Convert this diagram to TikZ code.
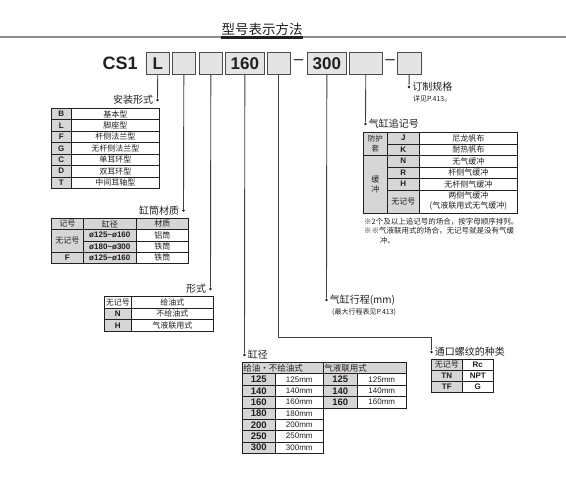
\documentclass[tikz,border=0pt]{standalone}
\usepackage{fontspec}
\setmainfont{Liberation Sans}
\newfontfamily\cjk{Noto Sans CJK SC}
\definecolor{txt}{HTML}{231F20}
\definecolor{cellgray}{HTML}{D6D6D6}
\definecolor{boxgray}{HTML}{E4E4E4}
\definecolor{linegray}{HTML}{404040}
\newcommand\Tcj{\cjk\fontsize{8}{9}\selectfont}
\newcommand\Tcs{\cjk\fontsize{8}{9.5}\selectfont}
\newcommand\Tbf{\fontsize{8}{9}\selectfont\bfseries}
\newcommand\Tnum{\fontsize{9.5}{10}\selectfont\bfseries}
\newcommand\Tmm{\fontsize{8}{9}\selectfont}
\tikzset{
  cell/.style={draw=txt, line width=0.6pt, inner sep=0pt, anchor=north west, align=center, text=txt},
  codebox/.style={draw=black!70, line width=0.7pt, fill=boxgray, anchor=north west, inner sep=0pt, minimum height=22pt, font=\fontsize{17}{17}\selectfont\bfseries, text=txt},
  conn/.style={draw=linegray, line width=0.9pt},
  dotnode/.style={circle, fill=txt, inner sep=0pt, minimum size=2.8pt},
  lbl/.style={font=\cjk\fontsize{10}{12}\selectfont, text=txt, inner sep=1.5pt},
  sublbl/.style={font=\cjk\fontsize{7}{8}\selectfont, text=txt, inner sep=0pt},
}
\newcommand\tc[7]{\node[cell,fill=#6,minimum width=#4pt,minimum height=#5pt] (#1) at ({#2},{#3}) {#7};}
\begin{document}
\begin{tikzpicture}[x=1pt,y=-1pt]
\fill[white] (0,0) rectangle (566,482);
\useasboundingbox (0,0) rectangle (566,482);

% title
\node[font=\cjk\fontsize{13.5}{15}\selectfont, text=txt, inner sep=0pt] (title) at (262,29) {型号表示方法};
\draw[line width=2pt, black!45] (0,37) -- (566,37);
\draw[line width=2.6pt, txt] (221,37.3) -- (303,37.3);

% code row
\node[font=\fontsize{18}{18}\selectfont\bfseries, text=txt, inner sep=0pt, anchor=west] (cs) at (102.5,63.5) {CS1};
\node[codebox, minimum width=23pt] (b1) at (146,52) {L};
\node[codebox, minimum width=23pt] (b2) at (172,52) {};
\node[codebox, minimum width=23pt] (b3) at (199,52) {};
\node[codebox, minimum width=39pt] (b4) at (225,52) {160};
\node[codebox, minimum width=23pt] (b5) at (267,52) {};
\node[font=\fontsize{17}{17}\selectfont, text=txt, inner sep=0pt] (dash1) at (298.5,62) {–};
\node[codebox, minimum width=39pt] (b6) at (307,52) {300};
\node[codebox, minimum width=33pt] (b7) at (349,52) {};
\node[font=\fontsize{17}{17}\selectfont, text=txt, inner sep=0pt] (dash2) at (390,62) {–};
\node[codebox, minimum width=24pt] (b8) at (397,52) {};

% dots
\node[dotnode] (d1) at (157.5,100) {};
\node[dotnode] (d2) at (183.5,210.5) {};
\node[dotnode] (d3) at (210.5,289) {};
\node[dotnode] (d4) at (244.5,355) {};
\node[dotnode] (d5) at (431.5,352) {};
\node[dotnode] (d6) at (326.5,300) {};
\node[dotnode] (d7) at (365.5,124) {};
\node[dotnode] (d8) at (409,87) {};
\coordinate (c5) at (431.5,337);

% connectors
\draw[conn] (b1) -- (d1);
\draw[conn] (b2) -- (d2);
\draw[conn] (b3) -- (d3);
\draw[conn] (b4) -- (d4);
\draw[conn] (b5) |- (c5) -- (d5);
\draw[conn] (b6) -- (d6);
\draw[conn] (b7) -- (d7);
\draw[conn] (b8) -- (d8);

% labels
\node[lbl, anchor=east] (l1) at ([xshift=-1pt]d1.west) {安装形式};
\node[lbl, anchor=east] (l2) at ([xshift=-1pt]d2.west) {缸筒材质};
\node[lbl, anchor=east] (l3) at ([xshift=-1pt]d3.west) {形式};
\node[lbl, anchor=west] (l4) at (d4.east) {缸径};
\node[lbl, anchor=west] (l5) at (d5.east) {通口螺纹的种类};
\node[lbl, anchor=west] (l6) at (d6.east) {气缸行程(mm)};
\node[sublbl, anchor=west] (l6s) at (332,312) {(最大行程表见P.413)};
\node[lbl, anchor=west] (l7) at (d7.east) {气缸追记号};
\node[lbl, anchor=west] (l8) at (d8.east) {订制规格};
\node[sublbl, anchor=west] (l8s) at (413,98.5) {详见P.413。};

% table 1: 安装形式
\foreach \mya/\myb [count=\i] in {B/基本型,L/脚座型,F/杆侧法兰型,G/无杆侧法兰型,C/单耳环型,D/双耳环型,T/中间耳轴型}{
  \tc{t1a\i}{51}{108+11.43*(\i-1)}{20}{11.43}{cellgray}{\Tbf\mya}
  \tc{t1b\i}{71}{108+11.43*(\i-1)}{88}{11.43}{white}{\Tcj\myb}
}

% table 2: 缸筒材质
\tc{t2h1}{51}{218}{32}{11.25}{cellgray}{\Tcj 记号}
\tc{t2h2}{83}{218}{53}{11.25}{cellgray}{\Tcj 缸径}
\tc{t2h3}{136}{218}{52}{11.25}{cellgray}{\Tcj 材质}
\tc{t2a1}{51}{229.25}{32}{22.5}{cellgray}{\Tcj 无记号}
\tc{t2b1}{83}{229.25}{53}{11.25}{cellgray}{\Tbf ø125\textasciitilde ø160}
\tc{t2c1}{136}{229.25}{52}{11.25}{white}{\Tcj 铝筒}
\tc{t2b2}{83}{240.5}{53}{11.25}{cellgray}{\Tbf ø180\textasciitilde ø300}
\tc{t2c2}{136}{240.5}{52}{11.25}{white}{\Tcj 铁筒}
\tc{t2a3}{51}{251.75}{32}{11.25}{cellgray}{\Tbf F}
\tc{t2b3}{83}{251.75}{53}{11.25}{cellgray}{\Tbf ø125\textasciitilde ø160}
\tc{t2c3}{136}{251.75}{52}{11.25}{white}{\Tcj 铁筒}

% table 3: 形式
\tc{t3a1}{104}{296}{27}{11.67}{white}{\Tcj 无记号}
\tc{t3b1}{131}{296}{82}{11.67}{white}{\Tcj 给油式}
\tc{t3a2}{104}{307.67}{27}{11.67}{cellgray}{\Tbf N}
\tc{t3b2}{131}{307.67}{82}{11.67}{white}{\Tcj 不给油式}
\tc{t3a3}{104}{319.33}{27}{11.67}{cellgray}{\Tbf H}
\tc{t3b3}{131}{319.33}{82}{11.67}{white}{\Tcj 气液联用式}

% table 4: 缸径
\tc{t4h1}{242}{362}{81}{11.375}{cellgray}{\makebox[79pt][l]{\cjk\fontsize{8.5}{9}\selectfont 给油·不给油式}}
\tc{t4h2}{323}{362}{83}{11.375}{cellgray}{\makebox[81pt][l]{\cjk\fontsize{8.5}{9}\selectfont 气液联用式}}
\foreach \mya [count=\i] in {125,140,160,180,200,250,300}{
  \tc{t4a\i}{242}{373.375+11.375*(\i-1)}{33}{11.375}{cellgray}{\Tnum\mya}
  \tc{t4b\i}{275}{373.375+11.375*(\i-1)}{48}{11.375}{white}{\Tmm\mya mm}
}
\foreach \mya [count=\i] in {125,140,160}{
  \tc{t4c\i}{323}{373.375+11.375*(\i-1)}{34}{11.375}{cellgray}{\Tnum\mya}
  \tc{t4d\i}{357}{373.375+11.375*(\i-1)}{49}{11.375}{white}{\Tmm\mya mm}
}

% table 5: 通口螺纹的种类
\tc{t5a1}{431}{359}{31}{11}{cellgray}{\Tcj 无记号}
\tc{t5b1}{462}{359}{31}{11}{white}{\Tbf Rc}
\tc{t5a2}{431}{370}{31}{11}{cellgray}{\Tbf TN}
\tc{t5b2}{462}{370}{31}{11}{white}{\Tbf NPT}
\tc{t5a3}{431}{381}{31}{11}{cellgray}{\Tbf TF}
\tc{t5b3}{462}{381}{31}{11}{white}{\Tbf G}

% table 7: 气缸追记号
\node[cell, fill=cellgray, minimum width=24pt, minimum height=23pt, font=\cjk\fontsize{7.5}{9.5}\selectfont] (t7a1) at (363,132) {防护\\套};
\node[cell, fill=cellgray, minimum width=24pt, minimum height=57.5pt, font=\cjk\fontsize{8}{10}\selectfont] (t7a2) at (363,155) {缓\\冲};
\foreach \mya/\myb [count=\i] in {J/尼龙帆布,K/耐热帆布,N/无气缓冲,R/杆侧气缓冲,H/无杆侧气缓冲}{
  \tc{t7b\i}{387}{132+11.5*(\i-1)}{32}{11.5}{cellgray}{\Tbf\mya}
  \tc{t7c\i}{419}{132+11.5*(\i-1)}{98}{11.5}{white}{\Tcs\myb}
}
\tc{t7b6}{387}{189.5}{32}{23}{cellgray}{\Tcj 无记号}
\node[cell, fill=white, minimum width=98pt, minimum height=23pt, font=\cjk\fontsize{8}{10}\selectfont] (t7c6) at (419,189.5) {两侧气缓冲\\(气液联用式无气缓冲)};
\node[anchor=north west, align=left, inner sep=0pt, text=txt, font=\cjk\fontsize{7.5}{9.5}\selectfont] (notes) at (364,217.5)
  {※2个及以上追记号的场合，按字母顺序排列。\\※※气液联用式的场合，无记号就是没有气缓\\\hspace*{2.1em}冲。};
\end{tikzpicture}
\end{document}
